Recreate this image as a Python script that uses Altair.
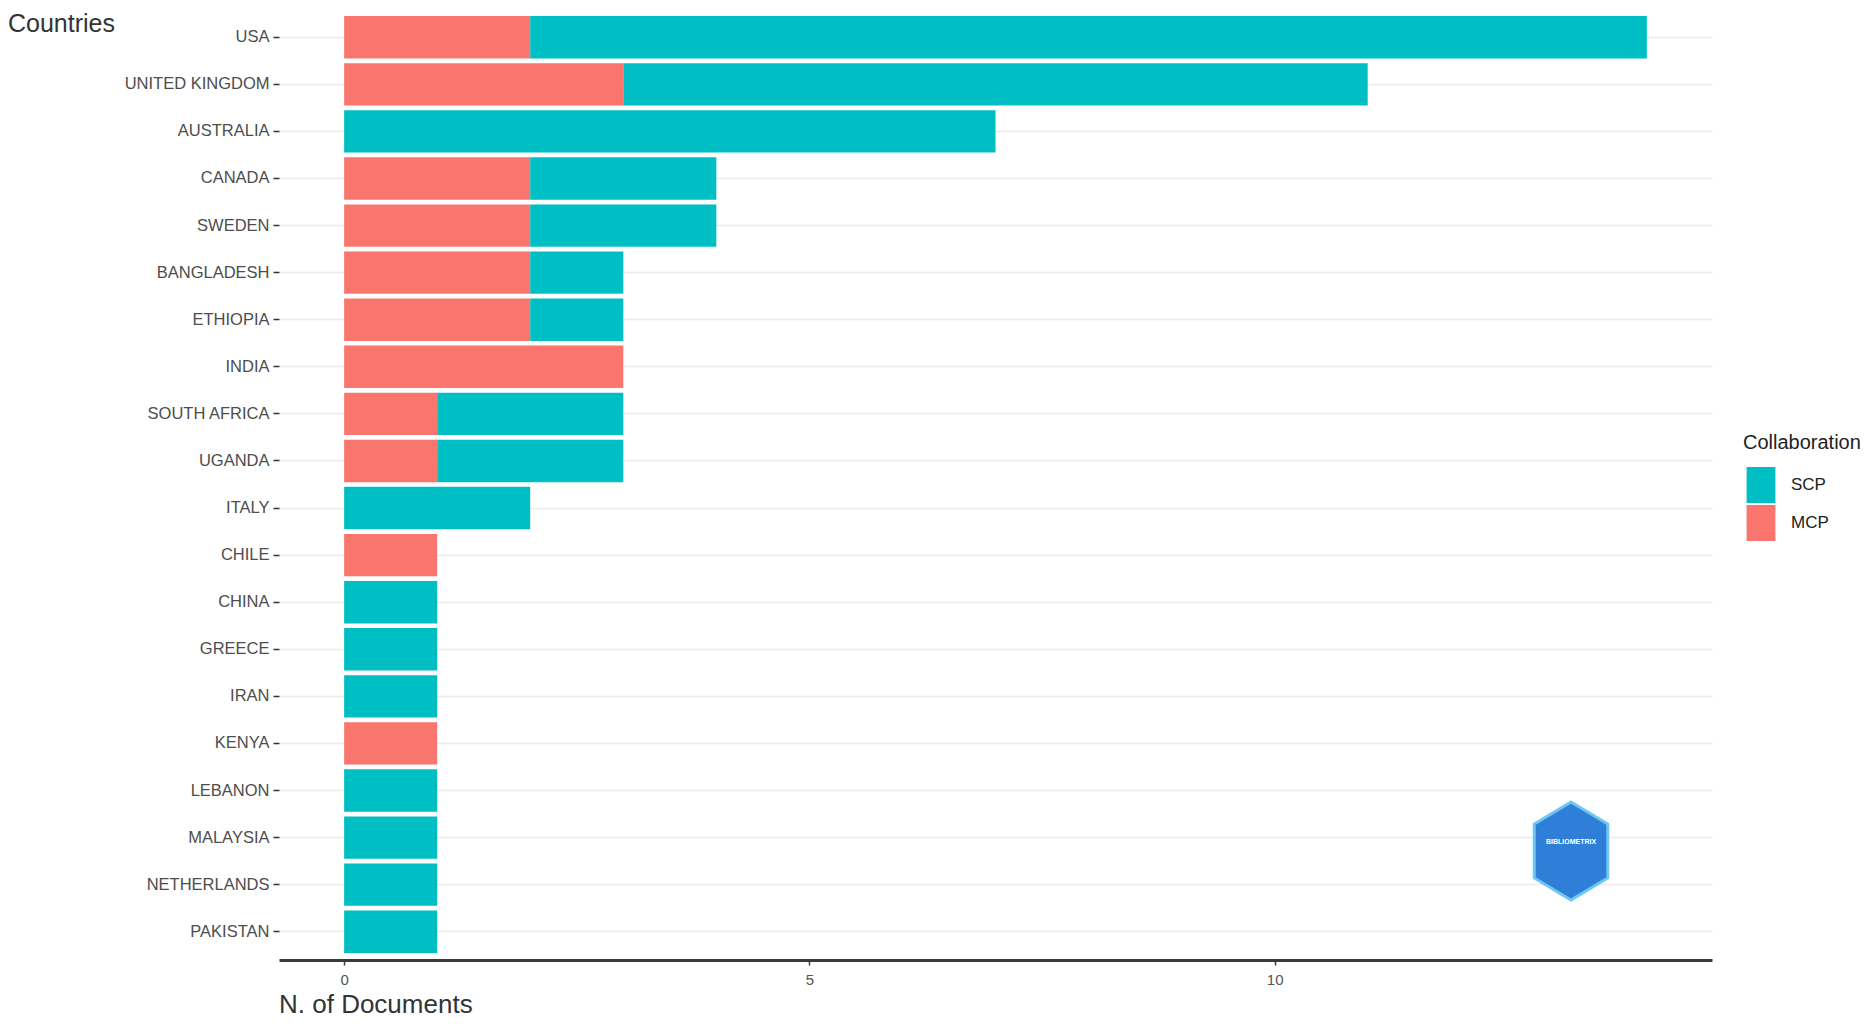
import altair as alt
import pandas as pd

countries = [
    "USA", "UNITED KINGDOM", "AUSTRALIA", "CANADA", "SWEDEN", "BANGLADESH",
    "ETHIOPIA", "INDIA", "SOUTH AFRICA", "UGANDA", "ITALY", "CHILE", "CHINA",
    "GREECE", "IRAN", "KENYA", "LEBANON", "MALAYSIA", "NETHERLANDS", "PAKISTAN",
]
mcp = [2, 3, 0, 2, 2, 2, 2, 3, 1, 1, 0, 1, 0, 0, 0, 1, 0, 0, 0, 0]
scp = [12, 8, 7, 2, 2, 1, 1, 0, 2, 2, 2, 0, 1, 1, 1, 0, 1, 1, 1, 1]
groups = ["SCP", "MCP"]
colors = ["#00BFC4", "#F8766D"]
x_ticks = [0, 5, 10]

FONT = "Liberation Sans, Arial, sans-serif"

rows = []
for c, m, s in zip(countries, mcp, scp):
    rows.append({"country": c, "collab": "MCP", "n": m, "stack": 0})
    rows.append({"country": c, "collab": "SCP", "n": s, "stack": 1})
df = pd.DataFrame(rows)
df = df[df["n"] > 0]

bars = (
    alt.Chart(df)
    .mark_bar()
    .encode(
        x=alt.X(
            "sum(n):Q",
            stack="zero",
            scale=alt.Scale(domain=[-0.7, 14.7], nice=False, zero=False),
            axis=alt.Axis(
                title=None,
                values=x_ticks,
                grid=False,
                domain=True,
                domainColor="#3a3a3a",
                domainWidth=3,
                tickColor="#3a3a3a",
                tickSize=5,
                tickWidth=1.5,
                labelFont=FONT,
                labelFontSize=15,
                labelColor="#555555",
                labelPadding=7,
            ),
        ),
        y=alt.Y(
            "country:N",
            sort=countries,
            scale=alt.Scale(paddingInner=0.1, paddingOuter=0.15),
            axis=alt.Axis(
                title=None,
                domain=False,
                grid=True,
                gridColor="#EBEBEB",
                gridWidth=1.5,
                tickColor="#333333",
                tickSize=6,
                tickWidth=1.5,
                labelFont=FONT,
                labelFontSize=16.5,
                labelColor="#4D4D4D",
                labelPadding=4,
            ),
        ),
        color=alt.Color(
            "collab:N",
            scale=alt.Scale(domain=groups, range=colors),
            legend=alt.Legend(
                title="Collaboration",
                orient="none",
                legendX=1464,
                legendY=424,
                titleFont=FONT,
                titleFontSize=20,
                titleFontWeight="normal",
                titleColor="#222222",
                titlePadding=14,
                labelFont=FONT,
                labelFontSize=17,
                labelColor="#222222",
                labelOffset=12,
                symbolType="M-0.8,-1L0.8,-1L0.8,1L-0.8,1Z",
                symbolSize=1296,
                symbolStrokeWidth=0,
                symbolOpacity=1,
                rowPadding=2,
            ),
        ),
        order=alt.Order("stack:Q", sort="ascending"),
    )
)

y_title = (
    alt.Chart(pd.DataFrame({"t": ["Countries"]}))
    .mark_text(font=FONT, fontSize=25, color="#333333", align="left", baseline="middle")
    .encode(text="t:N", x=alt.value(-271), y=alt.value(15))
)

x_title = (
    alt.Chart(pd.DataFrame({"t": ["N. of Documents"]}))
    .mark_text(font=FONT, fontSize=26, color="#333333", align="left", baseline="middle")
    .encode(text="t:N", x=alt.value(0), y=alt.value(996))
)

# bibliometrix logo stand-in
logo = (
    alt.Chart(pd.DataFrame({"t": ["BIBLIOMETRIX"]}))
    .mark_point(
        shape="M0,-1L0.75,-0.55L0.75,0.55L0,1L-0.75,0.55L-0.75,-0.55Z",
        size=9604,
        filled=True,
        fill="#2F7FD8",
        stroke="#6EC6F2",
        strokeWidth=3,
        opacity=1,
    )
    .encode(x=alt.value(1292), y=alt.value(842))
)
logo_text = (
    alt.Chart(pd.DataFrame({"t": ["BIBLIOMETRIX"]}))
    .mark_text(font="Liberation Sans", fontSize=7, fontWeight="bold", color="white")
    .encode(text="t:N", x=alt.value(1292), y=alt.value(833))
)

chart = (
    alt.layer(bars, y_title, x_title, logo, logo_text)
    .properties(
        width=1433,
        height=951,
        autosize=alt.AutoSizeParams(type="none"),
        padding={"left": 271, "top": 1, "right": 152, "bottom": 62},
        background="white",
    )
    .configure_view(stroke=None)
)

chart.save("out.html", embed_options={"renderer": "svg", "actions": False})
